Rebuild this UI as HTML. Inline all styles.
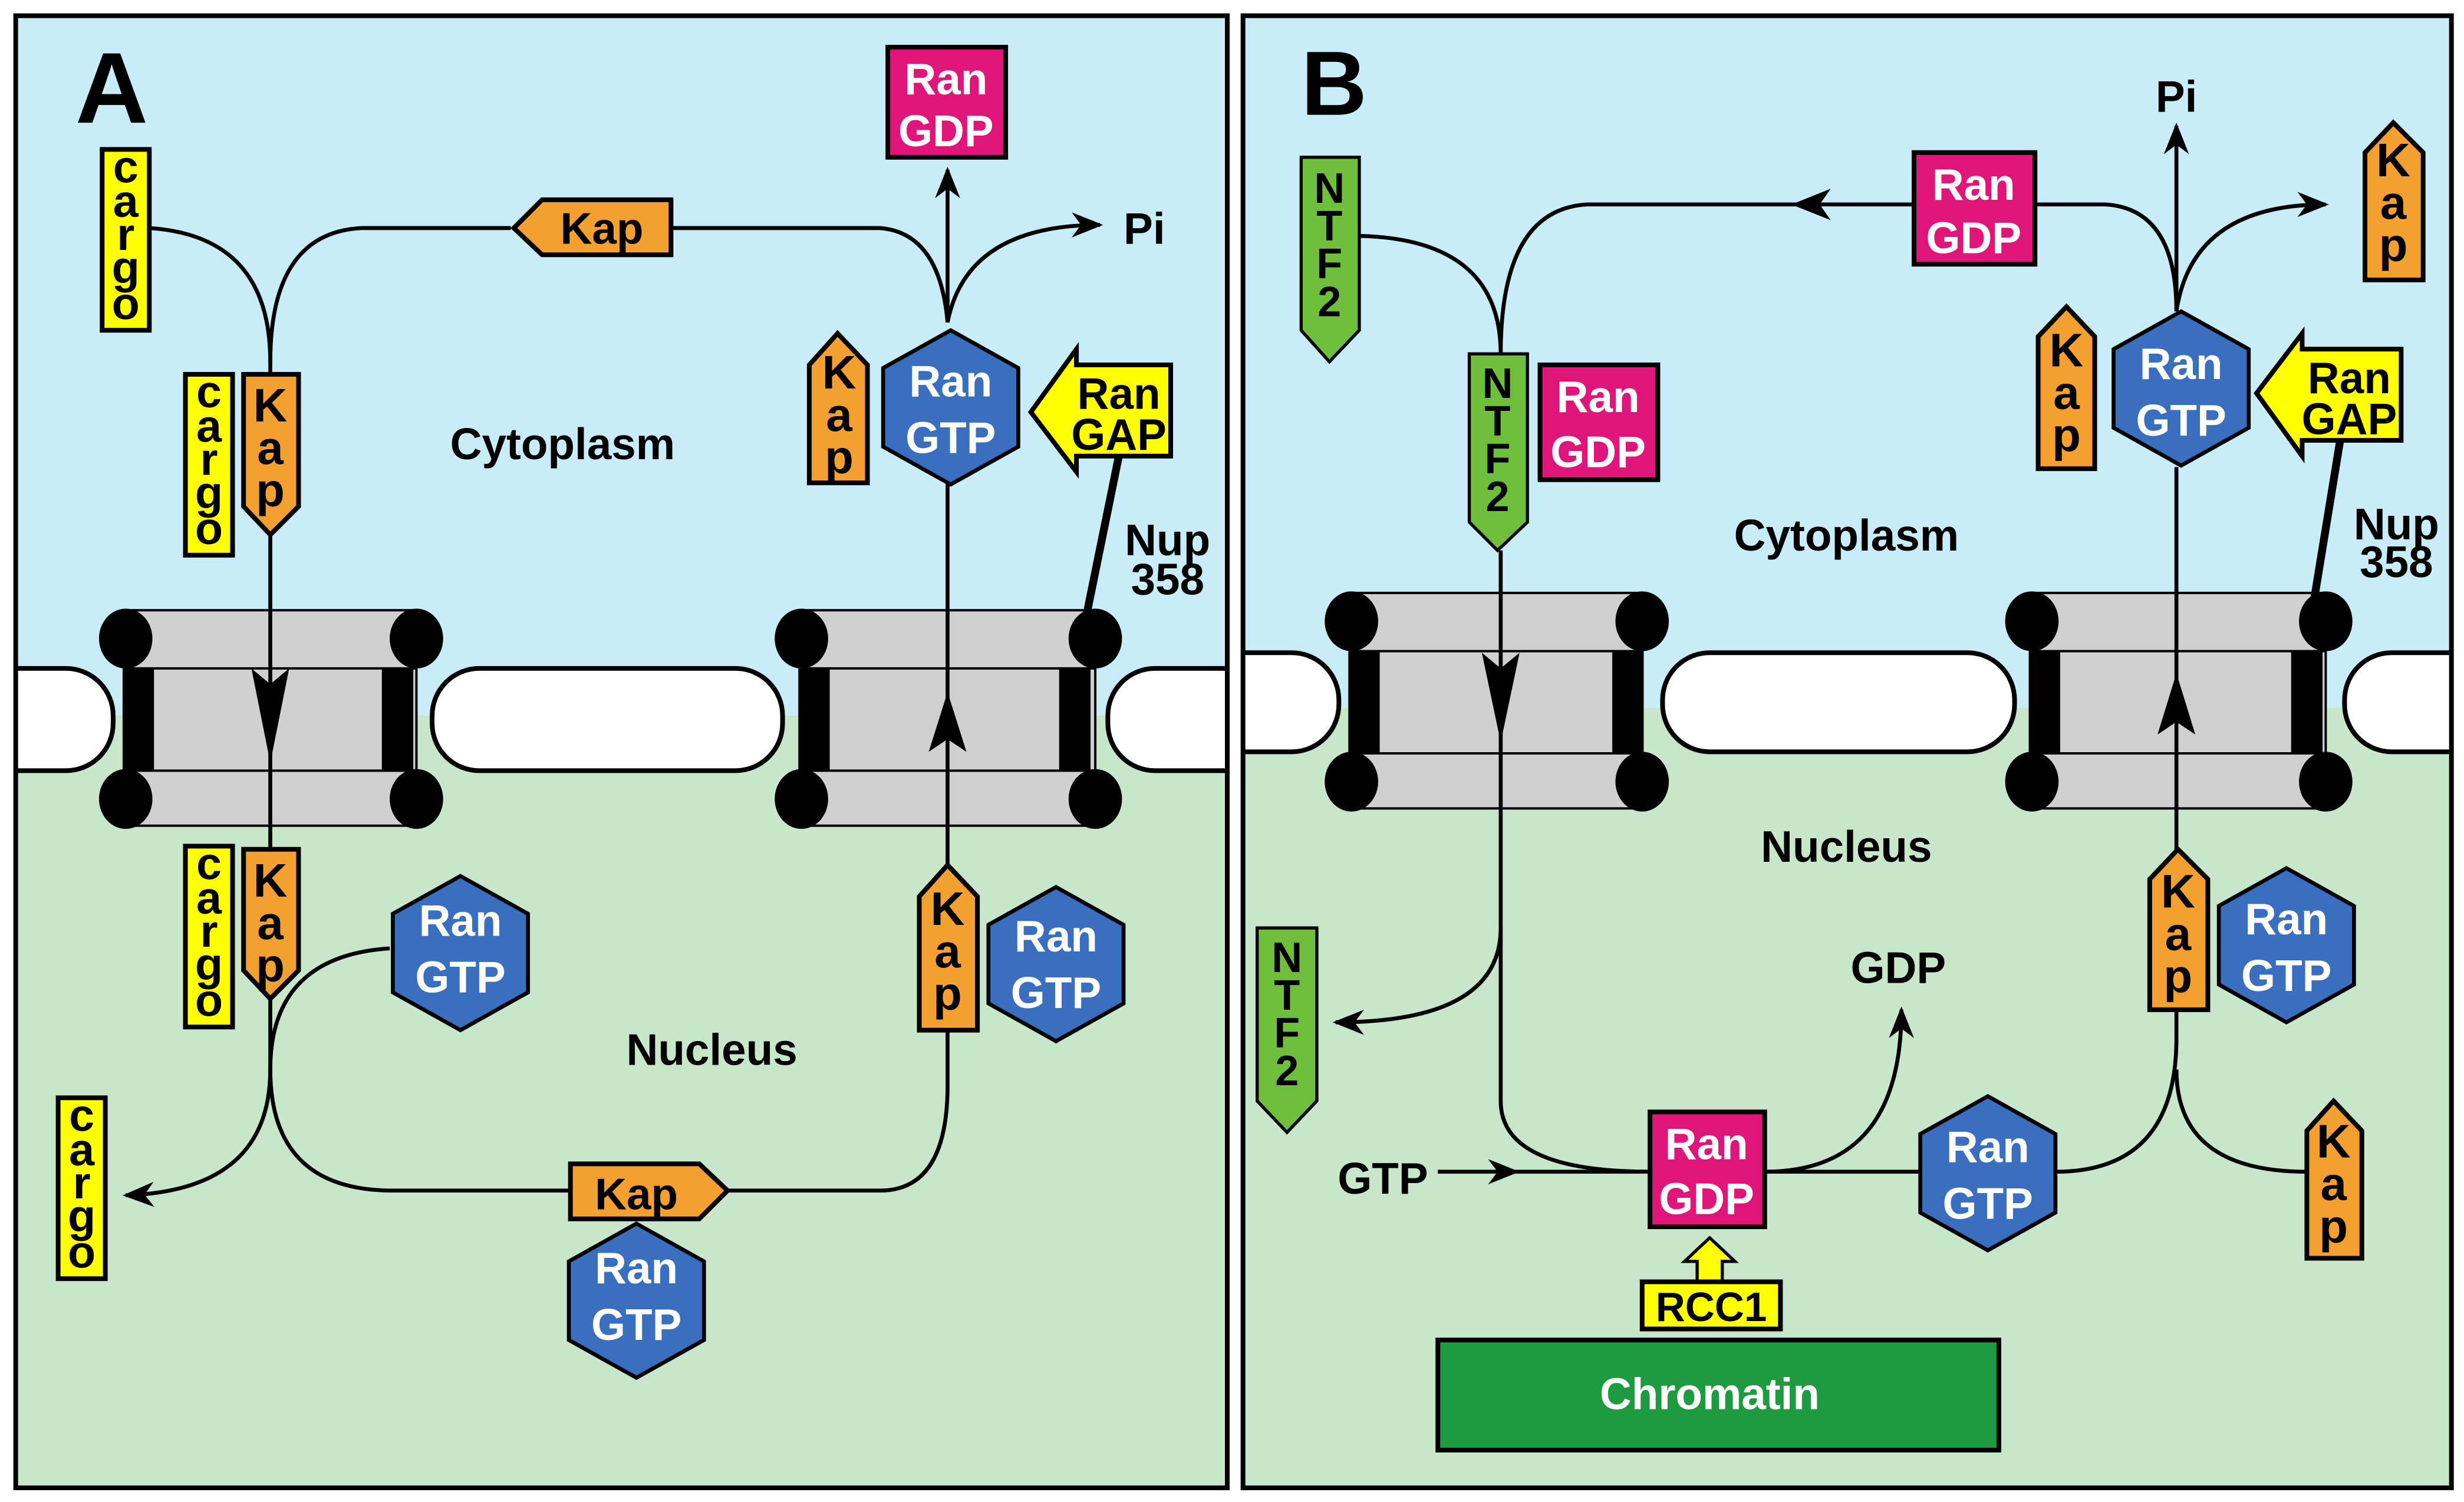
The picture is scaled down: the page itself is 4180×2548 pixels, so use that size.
<!DOCTYPE html>
<html><head><meta charset="utf-8"><style>
html,body{margin:0;padding:0;background:#fff;}
svg{display:block;}
text{font-family:"Liberation Sans Narrow","Liberation Sans",sans-serif;font-weight:bold;}
</style></head><body>
<svg width="4180" height="2548" viewBox="0 0 1568 955" preserveAspectRatio="none" xmlns="http://www.w3.org/2000/svg">
<defs>
<marker id="ah" viewBox="0 0 20 16" refX="18" refY="8" markerWidth="20" markerHeight="16" markerUnits="userSpaceOnUse" orient="auto">
<path d="M0,0 L20,8 L0,16 L6,8 Z" fill="#000"/></marker>
<clipPath id="cA"><rect x="10" y="10" width="771" height="936"/></clipPath>
<clipPath id="cB"><rect x="791" y="10" width="769" height="936"/></clipPath>
</defs>
<rect width="1568" height="955" fill="#fff"/>
<rect x="10" y="10" width="771" height="445" fill="#c8ecf8"/>
<rect x="10" y="455" width="771" height="491" fill="#c8e6ca"/>
<rect x="791" y="10" width="769" height="440" fill="#c8ecf8"/>
<rect x="791" y="450" width="769" height="496" fill="#c8e6ca"/>

<g stroke="#000" stroke-width="3" clip-path="url(#cA)">
<rect x="-40" y="425" width="112" height="65" rx="30" fill="#fff"/>
<rect x="275" y="425" width="223" height="65" rx="30" fill="#fff"/>
<rect x="705" y="425" width="120" height="65" rx="30" fill="#fff"/>
</g>
<g stroke="#000" stroke-width="3" clip-path="url(#cB)">
<rect x="750" y="415" width="102" height="63" rx="30" fill="#fff"/>
<rect x="1058" y="415" width="224" height="63" rx="30" fill="#fff"/>
<rect x="1492" y="415" width="110" height="63" rx="30" fill="#fff"/>
</g>
<g stroke="#000" stroke-width="1.5" fill="#d0d0d0">
<rect x="80" y="388" width="185" height="137"/>
<line x1="80" y1="425" x2="265" y2="425"/><line x1="80" y1="490" x2="265" y2="490"/>
<rect x="510" y="388" width="187" height="137"/>
<line x1="510" y1="425" x2="697" y2="425"/><line x1="510" y1="490" x2="697" y2="490"/>
<rect x="860" y="377" width="185" height="137"/>
<line x1="860" y1="414" x2="1045" y2="414"/><line x1="860" y1="479" x2="1045" y2="479"/>
<rect x="1293" y="377" width="187" height="137"/>
<line x1="1293" y1="414" x2="1480" y2="414"/><line x1="1293" y1="479" x2="1480" y2="479"/>
</g>
<g fill="#000">
<rect x="78" y="425" width="20" height="65"/><rect x="243" y="425" width="20" height="65"/>
<rect x="508" y="425" width="20" height="65"/><rect x="674" y="425" width="20" height="65"/>
<rect x="858" y="414" width="20" height="65"/><rect x="1026" y="414" width="20" height="65"/>
<rect x="1291" y="414" width="20" height="65"/><rect x="1458" y="414" width="20" height="65"/>
<ellipse cx="80" cy="406" rx="17" ry="19"/><ellipse cx="265" cy="406" rx="17" ry="19"/>
<ellipse cx="80" cy="508" rx="17" ry="19"/><ellipse cx="265" cy="508" rx="17" ry="19"/>
<ellipse cx="510" cy="406" rx="17" ry="19"/><ellipse cx="697" cy="406" rx="17" ry="19"/>
<ellipse cx="510" cy="508" rx="17" ry="19"/><ellipse cx="697" cy="508" rx="17" ry="19"/>
<ellipse cx="860" cy="395" rx="17" ry="19"/><ellipse cx="1045" cy="395" rx="17" ry="19"/>
<ellipse cx="860" cy="497" rx="17" ry="19"/><ellipse cx="1045" cy="497" rx="17" ry="19"/>
<ellipse cx="1293" cy="395" rx="17" ry="19"/><ellipse cx="1480" cy="395" rx="17" ry="19"/>
<ellipse cx="1293" cy="497" rx="17" ry="19"/><ellipse cx="1480" cy="497" rx="17" ry="19"/>
</g>
<rect x="10" y="10" width="771" height="936" fill="none" stroke="#000" stroke-width="3"/>
<rect x="791" y="10" width="769" height="936" fill="none" stroke="#000" stroke-width="3"/>

<g fill="none" stroke="#000" stroke-width="2.5">
<path d="M95,145 Q172,150 172,230"/>
<path d="M325,145 L230,145 Q172,148 172,230 L172,690"/>
<path d="M427,145 L560,145 Q598,148 603,205"/>
<path d="M603,205 L603,108" marker-end="url(#ah)"/>
<path d="M603,205 Q615,143 700,143" marker-end="url(#ah)"/>
<path d="M603,305 L603,690"/>
<path d="M248,603 Q172,608 172,680 Q172,757 250,757 L363,757"/>
<path d="M172,680 Q172,757 80,760" marker-end="url(#ah)"/>
<path d="M463,757 L560,757 Q603,757 603,690"/>
</g>
<g stroke="#000" stroke-width="5"><line x1="713" y1="285" x2="690" y2="398"/><line x1="1490" y1="275" x2="1472" y2="385"/></g>
<path d="M172,435 L160,425 L172,485 L184,425 Z" fill="#000"/>
<path d="M603,440 L591,478 L603,470 L615,478 Z" fill="#000"/>
<path d="M955,425 L943,415 L955,472 L967,415 Z" fill="#000"/>
<path d="M1385,428 L1373,467 L1385,459 L1397,467 Z" fill="#000"/>

<g fill="none" stroke="#000" stroke-width="2.5">
<path d="M865,150 Q955,152 955,225"/>
<path d="M1218,130 L1010,130 Q955,133 955,225"/>
<path d="M955,350 L955,700 Q955,745 1050,745"/>
<path d="M955,590 Q955,650 850,650" marker-end="url(#ah)"/>
<path d="M915,745 L965,745" marker-end="url(#ah)"/>
<path d="M965,745 L1050,745"/>
<path d="M1123,745 Q1210,745 1210,642" marker-end="url(#ah)"/>
<path d="M1123,745 L1222,745"/>
<path d="M1308,745 Q1385,745 1385,660 L1385,297"/>
<path d="M1385,680 Q1385,745 1468,745"/>
<path d="M1295,130 L1340,130 Q1385,133 1385,198"/>
<path d="M1385,198 L1385,80" marker-end="url(#ah)"/>
<path d="M1385,198 Q1395,130 1480,130" marker-end="url(#ah)"/>
</g>
<path d="M1140,130 L1165,120 L1158,130 L1165,140 Z" fill="#000"/>

<text x="48" y="78" font-family="Liberation Sans" font-size="64" font-weight="bold">A</text>
<text x="828" y="73" font-family="Liberation Sans" font-size="58" font-weight="bold">B</text>
<text x="358" y="292" font-size="28" text-anchor="middle">Cytoplasm</text>
<text x="453" y="677" font-size="28" text-anchor="middle">Nucleus</text>
<text x="715" y="155" font-size="28">Pi</text>
<text x="743" y="353" font-size="28" text-anchor="middle">Nup</text>
<text x="743" y="378" font-size="28" text-anchor="middle">358</text>
<text x="1175" y="350" font-size="28" text-anchor="middle">Cytoplasm</text>
<text x="1175" y="548" font-size="28" text-anchor="middle">Nucleus</text>
<text x="1385" y="71" font-size="28" text-anchor="middle">Pi</text>
<text x="1525" y="343" font-size="28" text-anchor="middle">Nup</text>
<text x="1525" y="367" font-size="28" text-anchor="middle">358</text>
<text x="880" y="759" font-size="28" text-anchor="middle">GTP</text>
<text x="1208" y="625" font-size="28" text-anchor="middle">GDP</text>

<g stroke="#000" stroke-width="3" fill="#ffff00">
<rect x="65" y="95" width="30" height="115"/>
<rect x="118" y="238" width="30" height="115"/>
<rect x="118" y="538" width="30" height="115"/>
<rect x="37" y="698" width="30" height="115"/>
</g>
<g font-size="29" text-anchor="middle">
<text><tspan x="80" y="116">c</tspan><tspan x="80" dy="22">a</tspan><tspan x="80" dy="21">r</tspan><tspan x="80" dy="21">g</tspan><tspan x="80" dy="23">o</tspan></text>
<text><tspan x="133" y="259">c</tspan><tspan x="133" dy="22">a</tspan><tspan x="133" dy="21">r</tspan><tspan x="133" dy="21">g</tspan><tspan x="133" dy="23">o</tspan></text>
<text><tspan x="133" y="559">c</tspan><tspan x="133" dy="22">a</tspan><tspan x="133" dy="21">r</tspan><tspan x="133" dy="21">g</tspan><tspan x="133" dy="23">o</tspan></text>
<text><tspan x="52" y="719">c</tspan><tspan x="52" dy="22">a</tspan><tspan x="52" dy="21">r</tspan><tspan x="52" dy="21">g</tspan><tspan x="52" dy="23">o</tspan></text>
</g>

<g stroke="#000" stroke-width="3" fill="#f4a030">
<polygon points="345,127 427,127 427,162 345,162 327,145"/>
<polygon points="155,238 190,238 190,322 172,340 155,322"/>
<polygon points="533,212 552,232 552,307 515,307 515,232"/>
<polygon points="155,540 190,540 190,617 172,635 155,617"/>
<polygon points="363,740 445,740 463,757 445,775 363,775"/>
<polygon points="603,550 622,570 622,655 585,655 585,570"/>
<polygon points="1523,78 1542,97 1542,178 1505,178 1505,97"/>
<polygon points="1315,195 1333,214 1333,298 1297,298 1297,214"/>
<polygon points="1386,540 1405,559 1405,642 1368,642 1368,559"/>
<polygon points="1485,700 1503,719 1503,800 1468,800 1468,719"/>
</g>
<text x="383" y="155" font-size="28" text-anchor="middle">Kap</text>
<text x="405" y="769" font-size="28" text-anchor="middle">Kap</text>
<g font-size="30" text-anchor="middle">
<text><tspan x="172" y="268">K</tspan><tspan x="172" dy="27">a</tspan><tspan x="172" dy="27">p</tspan></text>
<text><tspan x="172" y="570">K</tspan><tspan x="172" dy="27">a</tspan><tspan x="172" dy="27">p</tspan></text>
<text><tspan x="534" y="247">K</tspan><tspan x="534" dy="27">a</tspan><tspan x="534" dy="27">p</tspan></text>
<text><tspan x="603" y="588">K</tspan><tspan x="603" dy="27">a</tspan><tspan x="603" dy="27">p</tspan></text>
<text><tspan x="1523" y="112">K</tspan><tspan x="1523" dy="27">a</tspan><tspan x="1523" dy="27">p</tspan></text>
<text><tspan x="1315" y="233">K</tspan><tspan x="1315" dy="27">a</tspan><tspan x="1315" dy="27">p</tspan></text>
<text><tspan x="1386" y="577">K</tspan><tspan x="1386" dy="27">a</tspan><tspan x="1386" dy="27">p</tspan></text>
<text><tspan x="1485" y="736">K</tspan><tspan x="1485" dy="27">a</tspan><tspan x="1485" dy="27">p</tspan></text>
</g>

<g stroke="#000" stroke-width="2" fill="#6dbf3c">
<polygon points="828,100 865,100 865,210 846,230 828,210"/>
<polygon points="935,225 972,225 972,332 953,350 935,332"/>
<polygon points="800,590 838,590 838,700 819,720 800,700"/>
</g>
<g font-size="27" text-anchor="middle">
<text><tspan x="846" y="129">N</tspan><tspan x="846" dy="24">T</tspan><tspan x="846" dy="24">F</tspan><tspan x="846" dy="24">2</tspan></text>
<text><tspan x="953" y="253">N</tspan><tspan x="953" dy="24">T</tspan><tspan x="953" dy="24">F</tspan><tspan x="953" dy="24">2</tspan></text>
<text><tspan x="819" y="618">N</tspan><tspan x="819" dy="24">T</tspan><tspan x="819" dy="24">F</tspan><tspan x="819" dy="24">2</tspan></text>
</g>

<g stroke="#000" stroke-width="3" fill="#e0157a">
<rect x="565" y="30" width="75" height="70"/>
<rect x="1218" y="97" width="77" height="71"/>
<rect x="980" y="232" width="75" height="73"/>
<rect x="1050" y="707" width="73" height="73"/>
</g>
<g fill="#fff" font-size="28" text-anchor="middle">
<text x="602" y="60">Ran</text><text x="602" y="93">GDP</text>
<text x="1256" y="127">Ran</text><text x="1256" y="161">GDP</text>
<text x="1017" y="262">Ran</text><text x="1017" y="297">GDP</text>
<text x="1086" y="737">Ran</text><text x="1086" y="772">GDP</text>
</g>

<g stroke="#000" stroke-width="2.5" fill="#3a6fc0">
<polygon points="605,210 648,234 648,284 605,308 562,284 562,234"/>
<polygon points="293,557 336,581 336,631 293,655 250,631 250,581"/>
<polygon points="672,564 715,588 715,638 672,662 629,638 629,588"/>
<polygon points="405,778 448,802 448,852 405,876 362,852 362,802"/>
<polygon points="1388,198 1431,222 1431,272 1388,296 1345,272 1345,222"/>
<polygon points="1455,552 1498,576 1498,626 1455,650 1412,626 1412,576"/>
<polygon points="1265,697 1308,721 1308,771 1265,795 1222,771 1222,721"/>
</g>
<g fill="#fff" font-size="28" text-anchor="middle">
<text x="605" y="252">Ran</text><text x="605" y="288">GTP</text>
<text x="293" y="595">Ran</text><text x="293" y="631">GTP</text>
<text x="672" y="605">Ran</text><text x="672" y="641">GTP</text>
<text x="405" y="816">Ran</text><text x="405" y="852">GTP</text>
<text x="1388" y="241">Ran</text><text x="1388" y="277">GTP</text>
<text x="1455" y="594">Ran</text><text x="1455" y="630">GTP</text>
<text x="1265" y="739">Ran</text><text x="1265" y="775">GTP</text>
</g>

<g stroke="#000" stroke-width="3" fill="#ffff00">
<polygon points="685,222 685,232 745,232 745,290 685,290 685,300 656,262"/>
<polygon points="1465,212 1465,222 1528,222 1528,280 1465,280 1465,290 1436,250"/>
</g>
<g font-size="28" text-anchor="middle">
<text x="712" y="260">Ran</text><text x="712" y="286">GAP</text>
<text x="1495" y="250">Ran</text><text x="1495" y="276">GAP</text>
</g>

<polygon points="1088,787 1104,802 1096,802 1096,815 1080,815 1080,802 1072,802" fill="#ffff00" stroke="#000" stroke-width="2"/>
<rect x="1045" y="815" width="88" height="30" fill="#ffff00" stroke="#000" stroke-width="3"/>
<text x="1089" y="840" font-size="26" text-anchor="middle">RCC1</text>
<rect x="915" y="852" width="357" height="70" fill="#1e9a40" stroke="#000" stroke-width="3"/>
<text x="1088" y="896" font-size="28" text-anchor="middle" fill="#fff">Chromatin</text>
</svg>
</body></html>
